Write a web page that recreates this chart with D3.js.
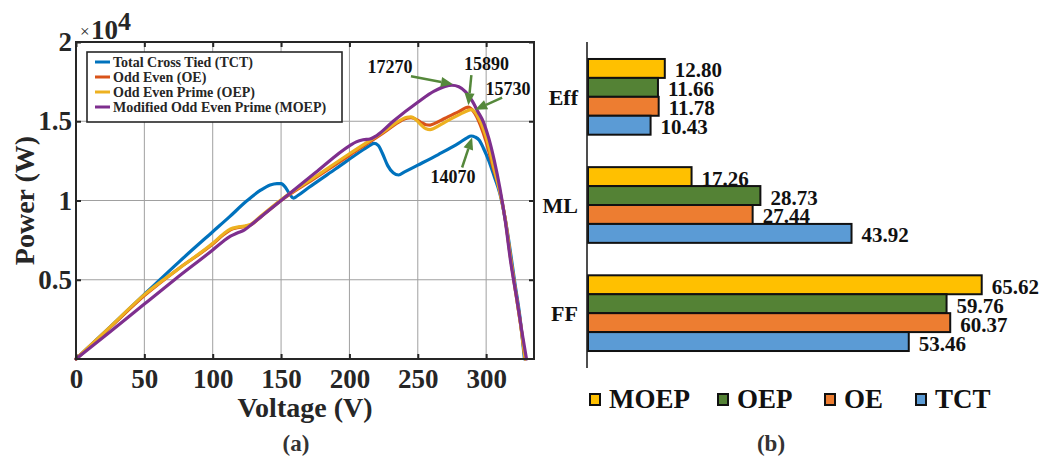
<!DOCTYPE html>
<html>
<head>
<meta charset="utf-8">
<script src="https://cdn.jsdelivr.net/npm/d3@7"></script>
<style>
  body { margin: 0; background: #fff; }
  svg { display: block; font-family: "Liberation Serif", "Times New Roman", serif; font-weight: bold; }
</style>
</head>
<body>
<svg id="chart" width="1044" height="458"></svg>
<script>
// ---------- (a) P-V characteristics: [voltage (V), power (W)] ----------
const tctCurve = [[0,0],[25,2020],[50,4080],[75,6100],[100,8030],[112,8950],[125,9980],[135,10650],[142,10980],[147,11070],[150,11060],[153,10850],[156,10450],[159,10150],[162,10300],[170,10800],[190,12000],[210,13200],[215,13480],[218,13600],[221,13480],[224,13000],[228,12200],[232,11750],[236,11610],[240,11790],[250,12230],[265,12900],[280,13620],[286,13950],[289,14070],[292,14000],[295,13800],[298,13300],[302,12500],[306,11500],[310,10450],[314,8800],[317,7200],[321,4800],[324.5,2800],[328,0]];
const oeCurve = [[0,0],[25,2000],[50,4000],[75,5700],[100,7250],[108,7850],[113,8150],[118,8280],[123,8350],[128,8470],[135,8950],[150,10000],[175,11420],[200,12850],[225,14280],[238,15050],[242,15200],[245,15230],[248,15150],[252,14950],[256,14780],[259,14760],[262,14850],[270,15190],[280,15610],[287,15890],[290,15700],[293,15300],[296,14700],[300,13700],[305,12100],[310,10600],[314,8800],[318,6300],[322,4000],[325,2300],[328.5,0]];
const oepCurve = [[0,0],[25,2030],[50,4060],[75,5700],[100,7300],[108,7900],[113,8200],[118,8320],[123,8380],[128,8500],[135,9000],[150,10050],[175,11500],[200,12950],[225,14350],[238,15100],[242,15250],[245,15270],[248,15150],[252,14800],[256,14520],[259,14470],[262,14560],[270,14950],[280,15400],[286,15650],[289,15730],[292,15550],[295,15100],[298,14500],[301,13700],[305,12300],[310,10550],[314,8800],[318,6300],[322,4000],[325,2300],[328.5,0]];
const moepCurve = [[0,0],[25,1720],[50,3470],[75,5200],[100,6880],[108,7450],[113,7750],[118,7950],[123,8130],[130,8600],[140,9300],[150,10000],[175,11750],[200,13450],[205,13700],[210,13830],[215,13880],[220,14100],[232,15000],[250,16200],[262,16900],[270,17200],[275,17270],[280,17180],[285,16850],[290,16250],[294,15600],[298,14950],[302,13900],[306,12500],[310,10800],[314,8700],[318,6100],[322,4000],[326,1800],[329.5,0]];

const curveNames = ["Total Cross Tied (TCT)", "Odd Even (OE)", "Odd Even Prime (OEP)", "Modified Odd Even Prime (MOEP)"];
const curveColors = ["#0072BD", "#D95319", "#EDB120", "#7E2F8E"];

const voltTicks = [0, 50, 100, 150, 200, 250, 300];
const powerTicks = [5000, 10000, 15000, 20000];
const powerTickLabels = ["0.5", "1", "1.5", "2"];

// Maximum power points called out on the curves
const peakValues = [17270, 15890, 15730, 14070];
const peakVolts = [275, 287, 289, 289];

// ---------- (b) performance indices ----------
const barCategories = ["Eff", "ML", "FF"];
const barSeries = ["MOEP", "OEP", "OE", "TCT"];
const moepValues = [12.80, 17.26, 65.62];
const oepValues = [11.66, 28.73, 59.76];
const oeValues = [11.78, 27.44, 60.37];
const tctValues = [10.43, 43.92, 53.46];
const barColors = ["#FFC000", "#548235", "#ED7D31", "#5B9BD5"];

const svg = d3.select("#chart");
const axisInk = "#262626";

// ================= (a) =================
const pl = { left: 76, right: 534, top: 42, bottom: 359 };
const x = d3.scaleLinear().domain([0, 335]).range([pl.left, pl.right]);
const y = d3.scaleLinear().domain([0, 20000]).range([pl.bottom, pl.top]);

const gA = svg.append("g");

// grid
gA.append("g").selectAll("line").data(voltTicks.filter(v => v > 0)).join("line")
  .attr("x1", d => x(d)).attr("x2", d => x(d)).attr("y1", pl.top).attr("y2", pl.bottom)
  .attr("stroke", "#a0a0a0").attr("stroke-width", 1);
gA.append("g").selectAll("line").data(powerTicks.filter(v => v < 20000)).join("line")
  .attr("x1", pl.left).attr("x2", pl.right).attr("y1", d => y(d)).attr("y2", d => y(d))
  .attr("stroke", "#a0a0a0").attr("stroke-width", 1);

// curves
const line = d3.line().x(d => x(d[0])).y(d => y(d[1])).curve(d3.curveMonotoneX);
const curves = [tctCurve, oeCurve, oepCurve, moepCurve];
gA.append("g").selectAll("path").data(curves).join("path")
  .attr("d", line).attr("fill", "none")
  .attr("stroke", (d, i) => curveColors[i]).attr("stroke-width", 3.2)
  .attr("stroke-linejoin", "round").attr("stroke-linecap", "round");

// axes (ticks inward on all four sides)
const styleAxis = g => { g.select(".domain").remove(); g.selectAll(".tick line").attr("stroke", axisInk).attr("stroke-width", 2); };
gA.append("g").attr("transform", `translate(0,${pl.bottom})`)
  .call(d3.axisBottom(x).tickValues(voltTicks).tickSize(-5).tickPadding(10))
  .call(styleAxis)
  .call(g => g.selectAll("text").attr("font-size", 27).attr("font-family", "Liberation Serif").attr("font-weight", "bold").attr("fill", axisInk));
gA.append("g").attr("transform", `translate(0,${pl.top})`)
  .call(d3.axisTop(x).tickValues(voltTicks).tickSize(-5).tickFormat(""))
  .call(styleAxis);
gA.append("g").attr("transform", `translate(${pl.left},0)`)
  .call(d3.axisLeft(y).tickValues(powerTicks).tickSize(-5).tickPadding(4).tickFormat((d, i) => powerTickLabels[i]))
  .call(styleAxis)
  .call(g => g.selectAll("text").attr("font-size", 27).attr("font-family", "Liberation Serif").attr("font-weight", "bold").attr("fill", axisInk));
gA.append("g").attr("transform", `translate(${pl.right},0)`)
  .call(d3.axisRight(y).tickValues(powerTicks).tickSize(-5).tickFormat(""))
  .call(styleAxis);

// frame
gA.append("rect").attr("x", pl.left).attr("y", pl.top)
  .attr("width", pl.right - pl.left).attr("height", pl.bottom - pl.top)
  .attr("fill", "none").attr("stroke", axisInk).attr("stroke-width", 2);

// exponent
const expo = gA.append("text").attr("fill", axisInk);
expo.append("tspan").attr("x", 80).attr("y", 37).attr("font-size", 17).attr("font-weight", "normal").text("\u00d7");
expo.append("tspan").attr("x", 91).attr("y", 39).attr("font-size", 27).text("10");
expo.append("tspan").attr("x", 118).attr("y", 30).attr("font-size", 26).text("4");

// axis titles
gA.append("text").attr("x", (pl.left + pl.right) / 2).attr("y", 417)
  .attr("text-anchor", "middle").attr("font-size", 28).attr("fill", axisInk).text("Voltage (V)");
gA.append("text").attr("transform", `translate(34,${(pl.top + pl.bottom) / 2}) rotate(-90)`)
  .attr("text-anchor", "middle").attr("font-size", 28).attr("fill", axisInk).text("Power (W)");
gA.append("text").attr("x", 296).attr("y", 451).attr("text-anchor", "middle")
  .attr("font-size", 23).attr("fill", "#333").text("(a)");

// legend
const lg = gA.append("g");
lg.append("rect").attr("x", 87).attr("y", 52).attr("width", 255).attr("height", 70)
  .attr("fill", "#fff").attr("stroke", axisInk).attr("stroke-width", 1.6);
curveNames.forEach((name, i) => {
  const ry = 62 + i * 15;
  lg.append("line").attr("x1", 95).attr("x2", 110).attr("y1", ry).attr("y2", ry)
    .attr("stroke", curveColors[i]).attr("stroke-width", 3);
  lg.append("text").attr("x", 113).attr("y", ry + 5).attr("font-size", 14)
    .attr("fill", axisInk).text(name);
});

// peak callouts
const arrowColor = "#55883B";
const tipShift = [[1, -1], [0, -2], [4, 0], [1, 1.5]];
const tailShift = [[-42, -8], [3, -30], [27, -12], [-10, 30]];
const labelShift = [[-63, -11], [18, -35], [33, -15], [-19, 46]];
const ann = gA.append("g");
peakValues.forEach((val, i) => {
  const tx = x(peakVolts[i]) + tipShift[i][0];
  const ty = y(val) + tipShift[i][1];
  const sx = tx + tailShift[i][0], sy = ty + tailShift[i][1];
  const ang = Math.atan2(ty - sy, tx - sx);
  const hl = 12, hw = 5;
  const bx = tx - hl * Math.cos(ang), by = ty - hl * Math.sin(ang);
  ann.append("line").attr("x1", sx).attr("y1", sy).attr("x2", bx).attr("y2", by)
    .attr("stroke", arrowColor).attr("stroke-width", 2.5);
  ann.append("polygon")
    .attr("points", [[tx, ty],
      [bx + hw * Math.sin(ang), by - hw * Math.cos(ang)],
      [bx - hw * Math.sin(ang), by + hw * Math.cos(ang)]].map(p => p.join(",")).join(" "))
    .attr("fill", arrowColor);
  ann.append("text").attr("x", tx + labelShift[i][0]).attr("y", ty + labelShift[i][1])
    .attr("text-anchor", "middle").attr("font-size", 18).attr("fill", "#111").text(val);
});

// ================= (b) =================
const bl = { left: 588, top: 42, bottom: 368 };
const xb = d3.scaleLinear().domain([0, 70]).range([bl.left, bl.left + 420]);
const yb = d3.scaleBand().domain(barCategories).range([bl.top, bl.bottom]).paddingInner(0.3).paddingOuter(0.157);
const ys = d3.scaleBand().domain(barSeries).range([0, yb.bandwidth()]);
const seriesValues = [moepValues, oepValues, oeValues, tctValues];

const gB = svg.append("g");
barCategories.forEach((cat, ci) => {
  const g = gB.append("g").attr("transform", `translate(0,${yb(cat)})`);
  barSeries.forEach((s, si) => {
    const v = seriesValues[si][ci];
    g.append("rect").attr("x", xb(0)).attr("y", ys(s))
      .attr("width", xb(v) - xb(0)).attr("height", ys.bandwidth())
      .attr("fill", barColors[si]).attr("stroke", "#111").attr("stroke-width", 2);
    g.append("text").attr("x", xb(v) + 10).attr("y", ys(s) + ys.bandwidth() / 2 + 9)
      .attr("font-size", 21).attr("fill", "#111").text(v.toFixed(2));
  });
  gB.append("text").attr("x", 578).attr("y", yb(cat) + yb.bandwidth() / 2 + 8)
    .attr("text-anchor", "end").attr("font-size", 22).attr("fill", "#111").text(cat);
});
gB.append("line").attr("x1", bl.left - 1).attr("x2", bl.left - 1).attr("y1", bl.top).attr("y2", bl.bottom)
  .attr("stroke", "#222").attr("stroke-width", 1.6);

// legend
const legendX = [590, 718, 825, 916];
barSeries.forEach((s, i) => {
  gB.append("rect").attr("x", legendX[i]).attr("y", 394).attr("width", 10).attr("height", 11)
    .attr("fill", barColors[i]).attr("stroke", "#111").attr("stroke-width", 2);
  gB.append("text").attr("x", legendX[i] + 19).attr("y", 408).attr("font-size", 27)
    .attr("fill", "#111").text(s);
});
gB.append("text").attr("x", 771).attr("y", 451).attr("text-anchor", "middle")
  .attr("font-size", 23).attr("fill", "#333").text("(b)");
</script>
</body>
</html>
